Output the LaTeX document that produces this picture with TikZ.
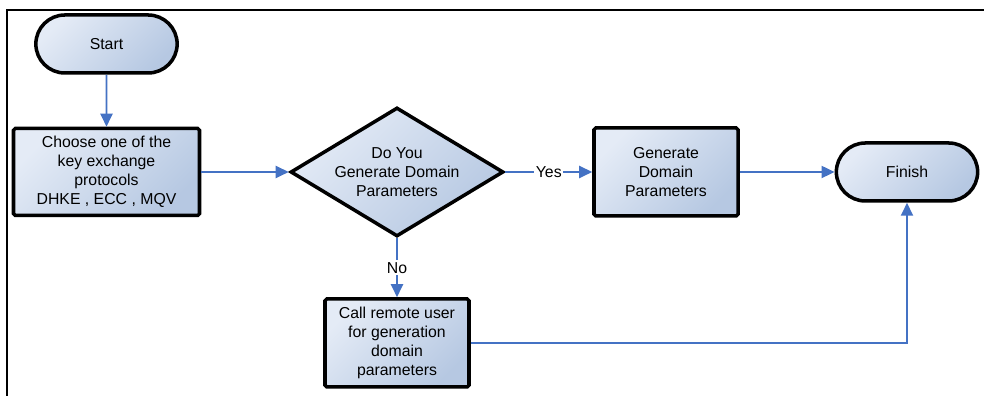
\documentclass[tikz,border=0pt]{standalone}
\usepackage{fontspec}
\setmainfont{Liberation Sans}
\usetikzlibrary{positioning}
\usetikzlibrary{calc}
\usetikzlibrary{arrows.meta}
\usetikzlibrary{shapes.misc}
\usetikzlibrary{shapes.geometric}
\definecolor{flowblue}{RGB}{68,114,196}
\definecolor{fillhi}{RGB}{228,235,246}
\definecolor{filllo}{RGB}{182,200,226}

\begin{document}
\begin{tikzpicture}[
    font=\fontsize{9}{10.8}\selectfont,
    shadebox/.style={top color=fillhi, bottom color=filllo, shading angle=45},
    terminal/.style={shadebox, draw=black, line width=2pt, rounded rectangle, minimum width=3.06cm, minimum height=1.16cm},
    process/.style={shadebox, draw=black, line width=2pt, rounded corners=1pt, minimum width=2.88cm, minimum height=1.76cm, align=center, inner sep=1pt},
    decision/.style={shadebox, draw=black, line width=2pt, diamond, aspect=1.65, minimum width=4.26cm, minimum height=2.58cm, align=center, inner sep=0pt},
    flow/.style={flowblue, line width=1.1pt, -{Triangle[length=0.26cm, width=0.24cm]}},
    answer/.style={fill=white, text=black, inner sep=1pt}
]
    \useasboundingbox (0,0) rectangle (19.68,7.92);
    % outer frame (top and left only)
    \draw[line width=1.1pt] (0.14,0) -- (0.14,7.72) -- (19.68,7.72);

    % top row
    \node[terminal] (start) at (2.13,7.04) {Start};
    \node[process, minimum width=3.72cm, minimum height=1.74cm] (choose) at (2.13,4.48)
        {Choose one of the\\key exchange\\protocols\\DHKE , ECC , MQV};
    \node[decision] (ask) at (7.94,4.48) {Do You\\Generate Domain\\Parameters};
    \node[process] (gen) at (13.32,4.48) {Generate\\Domain\\Parameters};
    \node[terminal] (finish) at (18.14,4.48) {Finish};

    % bottom row
    \node[process] (call) at (7.94,1.06) {Call remote user\\for generation\\domain\\parameters};

    % connectors
    \draw[flow] (start) -- (choose);
    \draw[flow] (choose) -- (ask);
    \draw[flow] (ask) -- node[answer] {Yes} (gen);
    \draw[flow] (gen) -- (finish);
    \draw[flow] (ask) -- node[answer] {No} (call);
    \draw[flow] (call.east) -| (finish.south);
\end{tikzpicture}
\end{document}
